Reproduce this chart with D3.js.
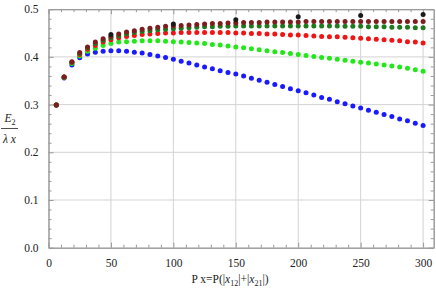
<!DOCTYPE html>
<html><head><meta charset="utf-8">
<script src="https://cdn.jsdelivr.net/npm/d3@7"></script>
<style>
body{margin:0;background:#fff;}
svg{display:block;}
svg text{font-family:"Liberation Serif","Times New Roman",serif !important;}
</style></head>
<body><svg id="c" width="436" height="291"></svg>
<script>
const xValues = [6.25,12.5,18.75,25,31.25,37.5,43.75,50,56.25,62.5,68.75,75,81.25,87.5,93.75,100,
  106.25,112.5,118.75,125,131.25,137.5,143.75,150,156.25,162.5,168.75,175,181.25,187.5,193.75,200,
  206.25,212.5,218.75,225,231.25,237.5,243.75,250,256.25,262.5,268.75,275,281.25,287.5,293.75,300];
const blueValues = [0.299,0.356,0.383,0.398,0.406,0.410,0.412,0.413,0.413,0.412,0.410,0.408,0.405,0.402,0.399,0.395,
  0.391,0.387,0.383,0.379,0.375,0.371,0.3675,0.364,0.360,0.355,0.351,0.347,0.342,0.338,0.333,0.329,
  0.325,0.320,0.315,0.311,0.306,0.302,0.297,0.293,0.288,0.284,0.279,0.275,0.270,0.266,0.261,0.256];
const greenValues = [0.299,0.357,0.386,0.402,0.412,0.418,0.424,0.428,0.431,0.432,0.433,0.434,0.434,0.434,0.433,0.432,
  0.431,0.430,0.429,0.428,0.426,0.425,0.423,0.421,0.419,0.417,0.415,0.413,0.411,0.409,0.407,0.405,
  0.403,0.401,0.399,0.397,0.395,0.393,0.391,0.389,0.387,0.385,0.383,0.381,0.379,0.376,0.373,0.370];
const redValues = [0.299,0.358,0.388,0.405,0.416,0.424,0.431,0.436,0.440,0.443,0.445,0.447,0.448,0.449,0.450,0.450,
  0.451,0.451,0.451,0.451,0.451,0.451,0.451,0.450,0.450,0.449,0.449,0.448,0.448,0.447,0.446,0.446,
  0.445,0.444,0.443,0.442,0.442,0.441,0.440,0.439,0.438,0.437,0.436,0.435,0.434,0.432,0.431,0.429];
const darkGreenValues = [0.299,0.358,0.389,0.407,0.419,0.428,0.435,0.440,0.444,0.448,0.451,0.453,0.455,0.457,0.458,0.459,
  0.460,0.461,0.462,0.463,0.463,0.464,0.464,0.465,0.465,0.465,0.465,0.465,0.465,0.465,0.465,0.465,
  0.465,0.465,0.465,0.465,0.465,0.464,0.464,0.464,0.463,0.463,0.463,0.462,0.462,0.462,0.461,0.461];
const darkRedValues = [0.299,0.358,0.390,0.409,0.421,0.431,0.438,0.443,0.448,0.452,0.455,0.458,0.460,0.462,0.464,0.465,
  0.466,0.467,0.468,0.469,0.470,0.470,0.471,0.471,0.472,0.472,0.472,0.473,0.473,0.473,0.473,0.473,
  0.474,0.474,0.474,0.474,0.474,0.474,0.474,0.474,0.474,0.474,0.474,0.474,0.474,0.474,0.474,0.474];
const blackX = [50,100,150,200,250,300];
const blackValues = [0.447,0.469,0.478,0.484,0.487,0.489];
const xTicks = [0,50,100,150,200,250,300];
const yTicks = [0.0,0.1,0.2,0.3,0.4,0.5];

const svg = d3.select("#c");
const x = d3.scaleLinear().domain([0,308.5]).range([48.5,433.7]);
const y = d3.scaleLinear().domain([0,0.5]).range([247.7,9.2]);
const L=x.range()[0], R=x.range()[1], B=y.range()[0], T=y.range()[1];

const grid = svg.append("g");
grid.selectAll("line.gx").data(xTicks.slice(1)).join("line")
  .attr("x1",d=>x(d)).attr("x2",d=>x(d)).attr("y1",B).attr("y2",T)
  .attr("stroke","#d3d3d3").attr("stroke-width",1);
grid.selectAll("line.gy").data(yTicks.slice(1,5)).join("line")
  .attr("y1",d=>y(d)).attr("y2",d=>y(d)).attr("x1",L).attr("x2",R)
  .attr("stroke","#d3d3d3").attr("stroke-width",1);

const xMinor = d3.range(0,309,10).filter(v=>v%50!==0);
const yMinor = d3.range(0,0.501,0.02).filter(v=>Math.abs(v*10-Math.round(v*10))>1e-6);
function frameAxis(axis, tr, labels){
  const g = svg.append("g").attr("transform",tr).call(axis)
    .attr("font-family","Liberation Serif, serif").attr("font-size",11.5);
  g.select(".domain").attr("stroke","#999");
  g.selectAll(".tick line").attr("stroke","#999");
  g.selectAll("text").attr("fill","#222");
  if(!labels) g.selectAll("text").remove();
  return g;
}
const fmtY = d3.format(".1f");
frameAxis(d3.axisBottom(x).tickValues(xTicks).tickSize(-5).tickPadding(11).tickSizeOuter(0),`translate(0,${B})`,true);
frameAxis(d3.axisLeft(y).tickValues(yTicks).tickFormat(fmtY).tickSize(-5).tickPadding(10).tickSizeOuter(0),`translate(${L},0)`,true);
frameAxis(d3.axisTop(x).tickValues(xTicks).tickSize(-5).tickSizeOuter(0),`translate(0,${T})`,false);
frameAxis(d3.axisRight(y).tickValues(yTicks).tickSize(-5).tickSizeOuter(0),`translate(${R},0)`,false);
frameAxis(d3.axisBottom(x).tickValues(xMinor).tickSize(-3).tickSizeOuter(0),`translate(0,${B})`,false);
frameAxis(d3.axisTop(x).tickValues(xMinor).tickSize(-3).tickSizeOuter(0),`translate(0,${T})`,false);
frameAxis(d3.axisLeft(y).tickValues(yMinor).tickSize(-3).tickSizeOuter(0),`translate(${L},0)`,false);
frameAxis(d3.axisRight(y).tickValues(yMinor).tickSize(-3).tickSizeOuter(0),`translate(${R},0)`,false);

const series = [
  {vals: blueValues, xs: xValues, color:"#1a1aff"},
  {vals: greenValues, xs: xValues, color:"#22e81a"},
  {vals: redValues, xs: xValues, color:"#f01414"},
  {vals: darkGreenValues, xs: xValues, color:"#1e7a1e"},
  {vals: darkRedValues, xs: xValues, color:"#7d1e1e"},
  {vals: blackValues, xs: blackX, color:"#1a1a1a"}
];
series.forEach(s=>{
  svg.append("g").selectAll("circle").data(s.vals).join("circle")
    .attr("cx",(d,i)=>x(s.xs[i])).attr("cy",d=>y(d)).attr("r",2.5).attr("fill",s.color);
});

const xl = svg.append("text").attr("x",230).attr("y",283).attr("text-anchor","middle")
  .attr("fill","#222").attr("font-size",11.5);
xl.append("tspan").text("P x=P(|");
xl.append("tspan").attr("font-style","italic").text("x");
xl.append("tspan").attr("font-size","8px").attr("dy",3).text("12");
xl.append("tspan").attr("dy",-3).text("|+|");
xl.append("tspan").attr("font-style","italic").text("x");
xl.append("tspan").attr("font-size","8px").attr("dy",3).text("21");
xl.append("tspan").attr("dy",-3).text("|)");

const yl = svg.append("g").attr("fill","#222").attr("font-size",11.5);
const e = yl.append("text").attr("x",10).attr("y",122).attr("text-anchor","middle");
e.append("tspan").attr("font-style","italic").text("E");
e.append("tspan").attr("font-size","8px").attr("dy",3).text("2");
yl.append("line").attr("x1",1).attr("x2",18).attr("y1",128.5).attr("y2",128.5).attr("stroke","#222").attr("stroke-width",0.8);
const lx = yl.append("text").attr("x",9.5).attr("y",143).attr("text-anchor","middle");
lx.append("tspan").attr("font-style","italic").text("λ x");
</script></body></html>
